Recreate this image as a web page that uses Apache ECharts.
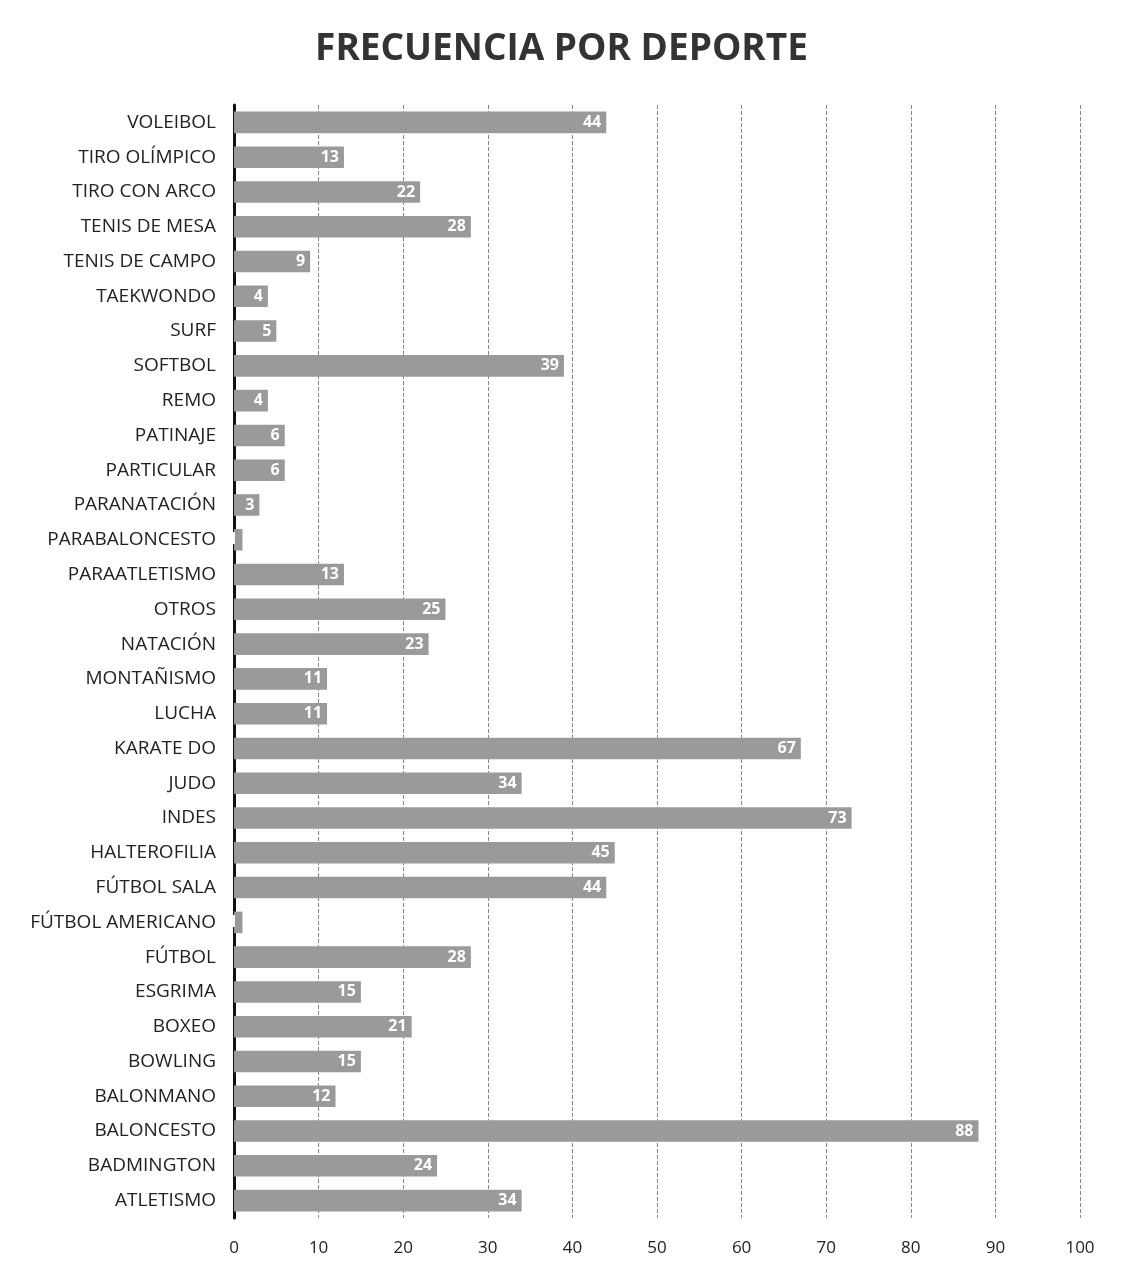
<!DOCTYPE html>
<html>
<head>
<meta charset="utf-8">
<script src="https://cdn.jsdelivr.net/npm/echarts@6/dist/echarts.min.js"></script>
<style>
html,body{margin:0;padding:0;background:#fff;}
#c{width:1123px;height:1281px;}
</style>
</head>
<body>
<div id="c"></div>
<script>
const titleText = 'FRECUENCIA POR DEPORTE';
const categories = ['VOLEIBOL','TIRO OLÍMPICO','TIRO CON ARCO','TENIS DE MESA','TENIS DE CAMPO','TAEKWONDO','SURF','SOFTBOL','REMO','PATINAJE','PARTICULAR','PARANATACIÓN','PARABALONCESTO','PARAATLETISMO','OTROS','NATACIÓN','MONTAÑISMO','LUCHA','KARATE DO','JUDO','INDES','HALTEROFILIA','FÚTBOL SALA','FÚTBOL AMERICANO','FÚTBOL','ESGRIMA','BOXEO','BOWLING','BALONMANO','BALONCESTO','BADMINGTON','ATLETISMO'];
const values = [44,13,22,28,9,4,5,39,4,6,6,3,1,13,25,23,11,11,67,34,73,45,44,1,28,15,21,15,12,88,24,34];
const xMin = 0, xMax = 100, xInterval = 10;

const chart = echarts.init(document.getElementById('c'));
chart.setOption({
  backgroundColor: '#ffffff',
  animation: false,
  title: {
    text: titleText,
    left: 'center',
    top: 26,
    textStyle: {fontFamily: 'Open Sans', fontWeight: 'bold', fontSize: 37, color: '#333'}
  },
  grid: {left: 234, right: 43, top: 105, bottom: 63, containLabel: false},
  xAxis: {
    type: 'value', min: xMin, max: xMax, interval: xInterval,
    axisLine: {show: false},
    axisTick: {show: false},
    axisLabel: {fontFamily: 'Open Sans', fontSize: 17, color: '#222', margin: 22},
    splitLine: {show: true, lineStyle: {type: 'dashed', color: '#888', width: 1}}
  },
  yAxis: {
    type: 'category', data: categories, inverse: true,
    axisLine: {show: true, lineStyle: {color: '#111', width: 3}},
    axisTick: {show: false},
    axisLabel: {fontFamily: 'Open Sans', fontSize: 19, color: '#222', margin: 18}
  },
  series: [{
    type: 'bar',
    data: values,
    barCategoryGap: '38%',
    itemStyle: {color: '#9a9a9a'},
    label: {
      show: true, position: 'insideRight', color: '#fff',
      fontFamily: 'Open Sans', fontWeight: 'bold', fontSize: 16
    }
  }]
});
</script>
</body>
</html>
